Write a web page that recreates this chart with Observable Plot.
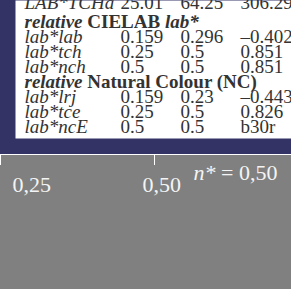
<!DOCTYPE html>
<html><head><meta charset="utf-8">
<script src="https://cdn.jsdelivr.net/npm/d3@7"></script>
<script src="https://cdn.jsdelivr.net/npm/@observablehq/plot@0.6"></script>
<style>
html,body{margin:0;padding:0;background:#808080;}
#chart{width:291px;}
#chart svg{display:block;}
#bottom{border-top:1px solid #ffffff;}
</style></head><body><div id="chart"><div id="top"></div><div id="bottom"></div></div>
<script>
// ---- data ----
const rowKeys = ["LAB*TCHa","relative CIELAB lab*","lab*lab","lab*tch","lab*nch","relative Natural Colour (NC)","lab*lrj","lab*tce","lab*ncE"];
const headerRows = ["relative CIELAB lab*","relative Natural Colour (NC)"];
const col1 = ["25.01","","0.159","0.25","0.5","","0.159","0.25","0.5"];
const col2 = ["64.25","","0.296","0.5","0.5","","0.23","0.5","0.5"];
const col3 = ["306.29","","–0.402","0.851","0.851","","–0.443","0.826","b30r"];
const columns = ["label","c1","c2","c3"];
const axisTicks = [0.25, 0.50];
const axisTickLabels = ["0,25","0,50"];
const noteLabel = "n* = 0,50";

// ---- table built from the arrays ----
const cells = [];
rowKeys.forEach((r, i) => {
  if (headerRows.includes(r)) return;
  [col1, col2, col3].forEach((col, j) => { if (col[i]) cells.push({row: r, col: columns[j + 1], text: col[i], top: i === 0}); });
});
const dataRows = rowKeys.filter(r => !headerRows.includes(r));

const serif = "Liberation Serif";
const ink = "#333333";
const fs = 19;
const common = {textAnchor: "start", lineAnchor: "bottom", fontSize: fs, fontFamily: serif, fill: ink};

const topPlot = Plot.plot({
  width: 291, height: 154,
  marginTop: 0, marginLeft: 15, marginRight: 0, marginBottom: 16,
  style: {background: "#333366", fontFamily: serif},
  x: {type: "point", domain: columns, range: [60, 240], padding: 0, axis: null},
  y: {type: "point", domain: rowKeys, range: [8.8, 135.6], padding: 0, axis: null},
  marks: [
    Plot.frame({fill: "white", stroke: null}),
    // row labels (italic)
    Plot.text(dataRows.slice(1), {...common, x: () => "label", y: d => d, text: d => d, dx: -36, fontStyle: "italic"}),
    Plot.text(dataRows.slice(0, 1), {...common, x: () => "label", y: d => d, text: d => d, dx: -36, dy: -4, fontStyle: "italic"}),
    // headers (bold, partial italic)
    Plot.text(headerRows, {...common, x: () => "label", y: d => d, text: d => d, dx: -36, fontWeight: "bold"}),
    // values
    Plot.text(cells.filter(d => !d.top), {...common, x: "col", y: "row", text: "text"}),
    Plot.text(cells.filter(d => d.top), {...common, x: "col", y: "row", text: "text", dy: -4})
  ]
});

const light = {fontSize: 22, fontFamily: serif, fill: "#f4f4f4", lineAnchor: "bottom"};
const bottomPlot = Plot.plot({
  width: 291, height: 134,
  marginTop: 0, marginBottom: 124, marginLeft: 0, marginRight: 0,
  style: {background: "#808080", fontFamily: serif},
  x: {domain: [0.25, 0.5], range: [0, 154], axis: null},
  marks: [
    Plot.tickX(axisTicks, {x: d => d, stroke: "white", strokeWidth: 1}),
    Plot.text(axisTicks.slice(0, 1), {...light, x: d => d, text: () => axisTickLabels[0], frameAnchor: "bottom", textAnchor: "start", dx: 12, dy: 26}),
    Plot.text(axisTicks.slice(1, 2), {...light, x: d => d, text: () => axisTickLabels[1], frameAnchor: "bottom", textAnchor: "start", dx: -12, dy: 26}),
    Plot.text([noteLabel], {...light, text: d => d, frameAnchor: "bottom-right", textAnchor: "end", dx: -14, dy: 14})
  ]
});

// mixed styling inside text elements
const NS = "http://www.w3.org/2000/svg";
function restyle(svg, match, italicTest) {
  svg.querySelectorAll("text").forEach(t => {
    if (!match(t.textContent)) return;
    const words = t.textContent.split(" ");
    t.textContent = "";
    words.forEach((w, i) => {
      const ts = document.createElementNS(NS, "tspan");
      ts.textContent = (i ? " " : "") + w;
      if (italicTest(w)) ts.setAttribute("font-style", "italic");
      t.appendChild(ts);
    });
  });
}
restyle(topPlot, s => headerRows.includes(s), w => /^(relative|lab\*)$/.test(w));
restyle(bottomPlot, s => s === noteLabel, w => w === "n*");

document.getElementById("top").appendChild(topPlot);
document.getElementById("bottom").appendChild(bottomPlot);
</script></body></html>
